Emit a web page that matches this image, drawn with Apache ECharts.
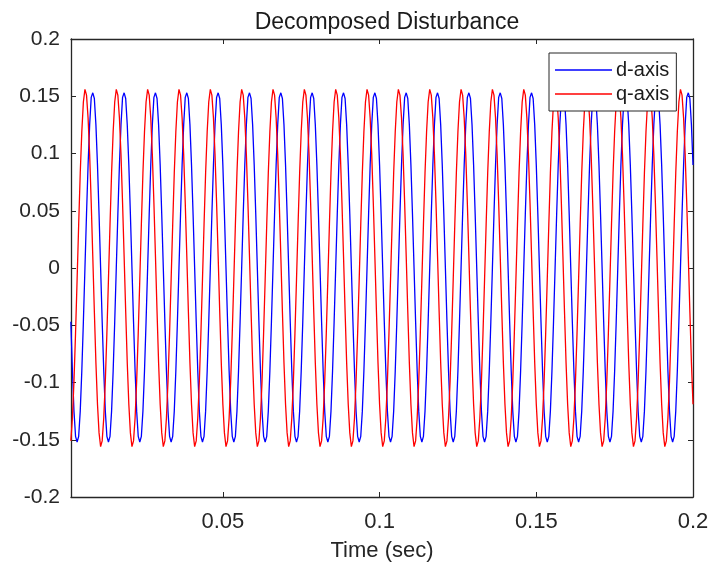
<!DOCTYPE html>
<html>
<head>
<meta charset="utf-8">
<script src="https://cdn.jsdelivr.net/npm/echarts@6/dist/echarts.min.js"></script>
<style>
html,body{margin:0;padding:0;background:#fff;}
#chart{width:713px;height:569px;}
</style>
</head>
<body>
<div id="chart"></div>
<script>
// Sampled signals (zero-order hold), one sample every 0.5 ms starting at t = 0.0015 s
const firstSampleTime = 0.0015;
const sampleStep = 0.0005;

const dAxis = [
-0.047,-0.090,-0.125,-0.147,-0.152,-0.147,-0.125,-0.090,-0.047,0.000,0.047,0.090,0.125,0.149,
0.153,0.148,0.125,0.090,0.047,0.000,-0.047,-0.090,-0.125,-0.147,-0.152,-0.147,-0.125,-0.090,-0.047,0.000,0.047,0.090,0.125,0.149,
0.153,0.148,0.125,0.090,0.047,0.000,-0.047,-0.090,-0.125,-0.147,-0.152,-0.147,-0.125,-0.090,-0.047,0.000,0.047,0.090,0.125,0.149,
0.153,0.148,0.125,0.090,0.047,0.000,-0.047,-0.090,-0.125,-0.147,-0.152,-0.147,-0.125,-0.090,-0.047,0.000,0.047,0.090,0.125,0.149,
0.153,0.148,0.125,0.090,0.047,0.000,-0.047,-0.090,-0.125,-0.147,-0.152,-0.147,-0.125,-0.090,-0.047,0.000,0.047,0.090,0.125,0.149,
0.153,0.148,0.125,0.090,0.047,0.000,-0.047,-0.090,-0.125,-0.147,-0.152,-0.147,-0.125,-0.090,-0.047,0.000,0.047,0.090,0.125,0.149,
0.153,0.148,0.125,0.090,0.047,0.000,-0.047,-0.090,-0.125,-0.147,-0.152,-0.147,-0.125,-0.090,-0.047,0.000,0.047,0.090,0.125,0.149,
0.153,0.148,0.125,0.090,0.047,0.000,-0.047,-0.090,-0.125,-0.147,-0.152,-0.147,-0.125,-0.090,-0.047,0.000,0.047,0.090,0.125,0.149,
0.153,0.148,0.125,0.090,0.047,0.000,-0.047,-0.090,-0.125,-0.147,-0.152,-0.147,-0.125,-0.090,-0.047,0.000,0.047,0.090,0.125,0.149,
0.153,0.148,0.125,0.090,0.047,0.000,-0.047,-0.090,-0.125,-0.147,-0.152,-0.147,-0.125,-0.090,-0.047,0.000,0.047,0.090,0.125,0.149,
0.153,0.148,0.125,0.090,0.047,0.000,-0.047,-0.090,-0.125,-0.147,-0.152,-0.147,-0.125,-0.090,-0.047,0.000,0.047,0.090,0.125,0.149,
0.153,0.148,0.125,0.090,0.047,0.000,-0.047,-0.090,-0.125,-0.147,-0.152,-0.147,-0.125,-0.090,-0.047,0.000,0.047,0.090,0.125,0.149,
0.153,0.148,0.125,0.090,0.047,0.000,-0.047,-0.090,-0.125,-0.147,-0.152,-0.147,-0.125,-0.090,-0.047,0.000,0.047,0.090,0.125,0.149,
0.153,0.148,0.125,0.090,0.047,0.000,-0.047,-0.090,-0.125,-0.147,-0.152,-0.147,-0.125,-0.090,-0.047,0.000,0.047,0.090,0.125,0.149,
0.153,0.148,0.125,0.090,0.047,0.000,-0.047,-0.090,-0.125,-0.147,-0.152,-0.147,-0.125,-0.090,-0.047,0.000,0.047,0.090,0.125,0.149,
0.153,0.148,0.125,0.090,0.047,0.000,-0.047,-0.090,-0.125,-0.147,-0.152,-0.147,-0.125,-0.090,-0.047,0.000,0.047,0.090,0.125,0.149,
0.153,0.148,0.125,0.090,0.047,0.000,-0.047,-0.090,-0.125,-0.147,-0.152,-0.147,-0.125,-0.090,-0.047,0.000,0.047,0.090,0.125,0.149,
0.153,0.148,0.125,0.090,0.047,0.000,-0.047,-0.090,-0.125,-0.147,-0.152,-0.147,-0.125,-0.090,-0.047,0.000,0.047,0.090,0.125,0.149,
0.153,0.148,0.125,0.090,0.047,0.000,-0.047,-0.090,-0.125,-0.147,-0.152,-0.147,-0.125,-0.090,-0.047,0.000,0.047,0.090,0.125,0.149,
0.153,0.148,0.125,0.090,0.047,0.000,-0.047,-0.090,-0.125,-0.147,-0.152,-0.147,-0.125,-0.090,-0.047,0.000,0.047,0.090,0.125,0.149,
0.153,0.148,0.125,0.090
];

const qAxis = [
-0.151,-0.131,-0.099,-0.057,-0.010,0.038,0.083,0.119,0.145,
0.156,0.151,0.131,0.099,0.057,0.010,-0.038,-0.083,-0.119,-0.144,-0.156,-0.151,-0.131,-0.099,-0.057,-0.010,0.038,0.083,0.119,0.145,
0.156,0.151,0.131,0.099,0.057,0.010,-0.038,-0.083,-0.119,-0.144,-0.156,-0.151,-0.131,-0.099,-0.057,-0.010,0.038,0.083,0.119,0.145,
0.156,0.151,0.131,0.099,0.057,0.010,-0.038,-0.083,-0.119,-0.144,-0.156,-0.151,-0.131,-0.099,-0.057,-0.010,0.038,0.083,0.119,0.145,
0.156,0.151,0.131,0.099,0.057,0.010,-0.038,-0.083,-0.119,-0.144,-0.156,-0.151,-0.131,-0.099,-0.057,-0.010,0.038,0.083,0.119,0.145,
0.156,0.151,0.131,0.099,0.057,0.010,-0.038,-0.083,-0.119,-0.144,-0.156,-0.151,-0.131,-0.099,-0.057,-0.010,0.038,0.083,0.119,0.145,
0.156,0.151,0.131,0.099,0.057,0.010,-0.038,-0.083,-0.119,-0.144,-0.156,-0.151,-0.131,-0.099,-0.057,-0.010,0.038,0.083,0.119,0.145,
0.156,0.151,0.131,0.099,0.057,0.010,-0.038,-0.083,-0.119,-0.144,-0.156,-0.151,-0.131,-0.099,-0.057,-0.010,0.038,0.083,0.119,0.145,
0.156,0.151,0.131,0.099,0.057,0.010,-0.038,-0.083,-0.119,-0.144,-0.156,-0.151,-0.131,-0.099,-0.057,-0.010,0.038,0.083,0.119,0.145,
0.156,0.151,0.131,0.099,0.057,0.010,-0.038,-0.083,-0.119,-0.144,-0.156,-0.151,-0.131,-0.099,-0.057,-0.010,0.038,0.083,0.119,0.145,
0.156,0.151,0.131,0.099,0.057,0.010,-0.038,-0.083,-0.119,-0.144,-0.156,-0.151,-0.131,-0.099,-0.057,-0.010,0.038,0.083,0.119,0.145,
0.156,0.151,0.131,0.099,0.057,0.010,-0.038,-0.083,-0.119,-0.144,-0.156,-0.151,-0.131,-0.099,-0.057,-0.010,0.038,0.083,0.119,0.145,
0.156,0.151,0.131,0.099,0.057,0.010,-0.038,-0.083,-0.119,-0.144,-0.156,-0.151,-0.131,-0.099,-0.057,-0.010,0.038,0.083,0.119,0.145,
0.156,0.151,0.131,0.099,0.057,0.010,-0.038,-0.083,-0.119,-0.144,-0.156,-0.151,-0.131,-0.099,-0.057,-0.010,0.038,0.083,0.119,0.145,
0.156,0.151,0.131,0.099,0.057,0.010,-0.038,-0.083,-0.119,-0.144,-0.156,-0.151,-0.131,-0.099,-0.057,-0.010,0.038,0.083,0.119,0.145,
0.156,0.151,0.131,0.099,0.057,0.010,-0.038,-0.083,-0.119,-0.144,-0.156,-0.151,-0.131,-0.099,-0.057,-0.010,0.038,0.083,0.119,0.145,
0.156,0.151,0.131,0.099,0.057,0.010,-0.038,-0.083,-0.119,-0.144,-0.156,-0.151,-0.131,-0.099,-0.057,-0.010,0.038,0.083,0.119,0.145,
0.156,0.151,0.131,0.099,0.057,0.010,-0.038,-0.083,-0.119,-0.144,-0.156,-0.151,-0.131,-0.099,-0.057,-0.010,0.038,0.083,0.119,0.145,
0.156,0.151,0.131,0.099,0.057,0.010,-0.038,-0.083,-0.119,-0.144,-0.156,-0.151,-0.131,-0.099,-0.057,-0.010,0.038,0.083,0.119,0.145,
0.156,0.151,0.131,0.099,0.057,0.010,-0.038,-0.083,-0.119,-0.144,-0.156,-0.151,-0.131,-0.099,-0.057,-0.010,0.038,0.083,0.119,0.145,
0.156,0.151,0.131,0.099,0.057,0.010,-0.038,-0.083,-0.119
];

const seriesNames = ['d-axis', 'q-axis'];
const xTickValues = [0.05, 0.1, 0.15, 0.2];
const xTickLabels = ['0.05', '0.1', '0.15', '0.2'];
const yTickValues = [-0.2, -0.15, -0.1, -0.05, 0, 0.05, 0.1, 0.15, 0.2];
const yTickLabels = ['-0.2', '-0.15', '-0.1', '-0.05', '0', '0.05', '0.1', '0.15', '0.2'];
const xMin = 0.00155, xMax = 0.2;
const yMin = -0.2, yMax = 0.2, yStep = 0.05;

function toPairs(values) {
  return values.map((v, i) => [firstSampleTime + i * sampleStep, v]);
}
function labelFor(values, labels) {
  return function (v) {
    for (let i = 0; i < values.length; i++) {
      if (Math.abs(values[i] - v) < 1e-9) return labels[i];
    }
    return '';
  };
}

const FONT = 'Liberation Sans, Arial, Helvetica, sans-serif';
const AX = '#262626';

const chart = echarts.init(document.getElementById('chart'), null, {renderer: 'canvas'});
chart.setOption({
  animation: false,
  backgroundColor: '#ffffff',
  title: {
    text: 'Decomposed Disturbance',
    left: 382, top: 6, textAlign: 'center',
    textStyle: {fontFamily: FONT, fontSize: 23, fontWeight: 'normal', color: '#1a1a1a'}
  },
  legend: {
    orient: 'vertical',
    left: 549, top: 53,
    padding: [7, 7, 7, 6],
    itemGap: 4,
    itemWidth: 57, itemHeight: 1.5,
    icon: 'rect',
    backgroundColor: '#ffffff',
    borderColor: '#262626', borderWidth: 1,
    textStyle: {fontFamily: FONT, fontSize: 20, color: '#1a1a1a', lineHeight: 20, padding: [0,0,0,-1]},
    data: seriesNames
  },
  grid: {left: 71, right: 20, top: 39, bottom: 72, containLabel: false},
  xAxis: [{
    type: 'value', min: xMin, max: xMax, position: 'bottom',
    axisLine: {show: true, onZero: false, lineStyle: {color: AX, width: 1.3}},
    axisTick: {show: true, inside: true, length: 5, customValues: xTickValues, lineStyle: {color: AX, width: 1}},
    axisLabel: {customValues: xTickValues, formatter: labelFor(xTickValues, xTickLabels), margin: 14,
      fontFamily: FONT, fontSize: 22, color: AX},
    splitLine: {show: false},
    name: 'Time (sec)', nameLocation: 'middle', nameGap: 43,
    nameTextStyle: {fontFamily: FONT, fontSize: 22, color: AX}
  }, {
    type: 'value', min: xMin, max: xMax, position: 'top',
    axisLine: {show: true, onZero: false, lineStyle: {color: AX, width: 1.3}},
    axisTick: {show: true, inside: true, length: 5, customValues: xTickValues, lineStyle: {color: AX, width: 1}},
    axisLabel: {show: false},
    splitLine: {show: false}
  }],
  yAxis: [{
    type: 'value', min: yMin, max: yMax, interval: yStep, position: 'left',
    axisLine: {show: true, onZero: false, lineStyle: {color: AX, width: 1.3}},
    axisTick: {show: true, inside: true, length: 5, lineStyle: {color: AX, width: 1}},
    axisLabel: {formatter: labelFor(yTickValues, yTickLabels), margin: 11,
      fontFamily: FONT, fontSize: 21, color: AX},
    splitLine: {show: false}
  }, {
    type: 'value', min: yMin, max: yMax, interval: yStep, position: 'right',
    axisLine: {show: true, onZero: false, lineStyle: {color: AX, width: 1.3}},
    axisTick: {show: true, inside: true, length: 5, lineStyle: {color: AX, width: 1}},
    axisLabel: {show: false},
    splitLine: {show: false}
  }],
  series: [{
    name: seriesNames[0], type: 'line', step: 'end',
    xAxisIndex: 0, yAxisIndex: 0,
    data: toPairs(dAxis), showSymbol: false, symbol: 'none',
    lineStyle: {color: '#0000ff', width: 1.3}, itemStyle: {color: '#0000ff'},
    clip: true
  }, {
    name: seriesNames[1], type: 'line', step: 'end',
    xAxisIndex: 0, yAxisIndex: 0,
    data: toPairs(qAxis), showSymbol: false, symbol: 'none',
    lineStyle: {color: '#ff0000', width: 1.3}, itemStyle: {color: '#ff0000'},
    clip: true
  }]
});
</script>
</body>
</html>
